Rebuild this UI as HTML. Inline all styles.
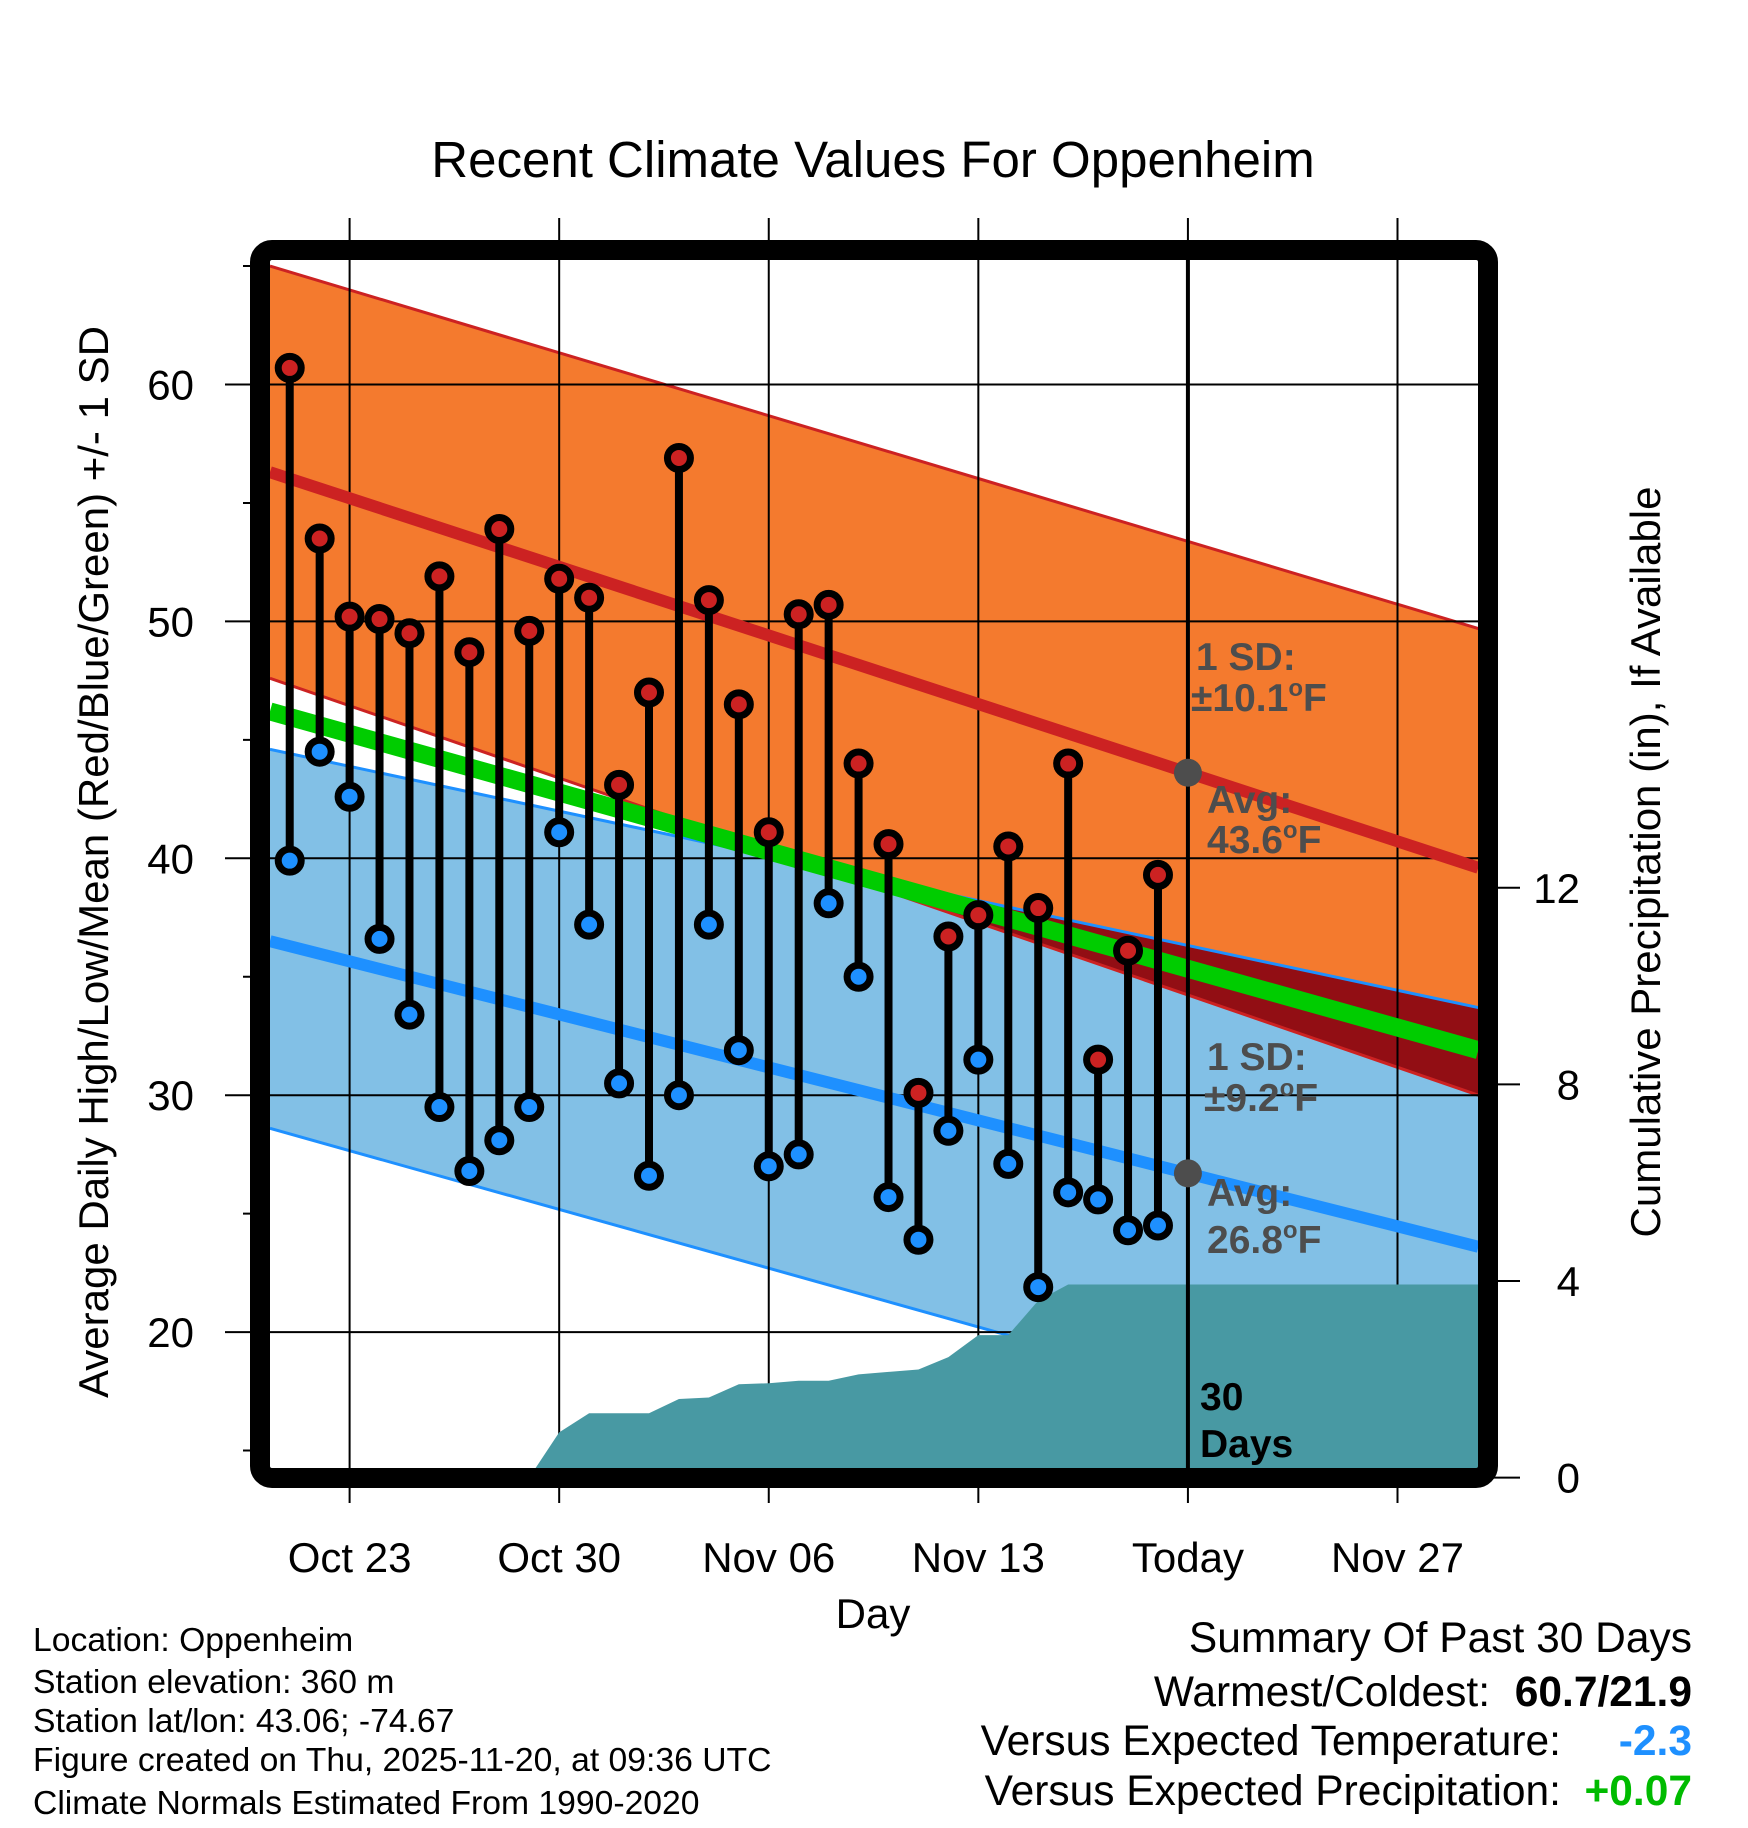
<!DOCTYPE html>
<html><head><meta charset="utf-8"><style>
html,body{margin:0;padding:0;background:#fff;}
svg{display:block;font-family:"Liberation Sans",sans-serif;}
</style></head><body>
<svg id="chart" width="1748" height="1828" viewBox="0 0 1748 1828" xmlns="http://www.w3.org/2000/svg">
<defs><clipPath id="plotclip"><rect x="270" y="260" width="1208" height="1208"/></clipPath></defs>
<text x="873" y="177" font-size="51" text-anchor="middle">Recent Climate Values For Oppenheim</text>
<g id="plot" clip-path="url(#plotclip)"></g>
<g id="axes"></g>
<rect x="260" y="250" width="1228" height="1228" rx="12" fill="none" stroke="#000" stroke-width="20"/>
<text transform="translate(108,862) rotate(-90)" font-size="42" text-anchor="middle">Average Daily High/Low/Mean (Red/Blue/Green) +/- 1 SD</text>
<text transform="translate(1660,862) rotate(-90)" font-size="42" text-anchor="middle">Cumulative Precipitation (in), If Available</text>
<text x="873" y="1628" font-size="42" text-anchor="middle">Day</text>
<g font-size="33.7">
<text x="33" y="1651">Location: Oppenheim</text>
<text x="33" y="1693">Station elevation: 360 m</text>
<text x="33" y="1732">Station lat/lon: 43.06; -74.67</text>
<text x="33" y="1771">Figure created on Thu, 2025-11-20, at 09:36 UTC</text>
<text x="33" y="1814">Climate Normals Estimated From 1990-2020</text>
</g>
<g font-size="42.5" text-anchor="end">
<text x="1692" y="1652">Summary Of Past 30 Days</text>
<text x="1490" y="1706">Warmest/Coldest:</text>
<text x="1692" y="1706" font-weight="bold">60.7/21.9</text>
<text x="1561" y="1755">Versus Expected Temperature:</text>
<text x="1692" y="1755" font-weight="bold" fill="#1E90FF">-2.3</text>
<text x="1561" y="1805">Versus Expected Precipitation:</text>
<text x="1692" y="1805" font-weight="bold" fill="#00BB00">+0.07</text>
</g>
<script>
const highs=[60.7,53.5,50.2,50.1,49.5,51.9,48.7,53.9,49.6,51.8,51.0,43.1,47.0,56.9,50.9,46.5,41.1,50.3,50.7,44.0,40.6,30.1,36.7,37.6,40.5,37.9,44.0,31.5,36.1,39.3];
const lows=[39.9,44.5,42.6,36.6,33.4,29.5,26.8,28.1,29.5,41.1,37.2,30.5,26.6,30.0,37.2,31.9,27.0,27.5,38.1,35.0,25.7,23.9,28.5,31.5,27.1,21.9,25.9,25.6,24.3,24.5];
const precip=[0,0,0,0,0,0,0,0,0,0.92,1.31,1.31,1.31,1.6,1.63,1.9,1.92,1.97,1.97,2.1,2.15,2.2,2.45,2.9,2.9,3.6,3.93,3.93,3.93,3.93];
const normalDays=[-2.66,37.7];
const highUpper=[65.0,49.7];
const highAvg=[56.3,39.6];
const highLower=[47.6,30.0];
const meanAvg=[46.2,31.9];
const lowUpper=[44.6,33.7];
const lowAvg=[36.5,23.6];
const lowLower=[28.6,14.3];
const tempTicks=[20,30,40,50,60];
const minorTicks=[15,25,35,45,55,65];
const precipTicks=[0,4,8,12];
const dateLabels=["Oct 23","Oct 30","Nov 06","Nov 13","Today","Nov 27"];
const dateDays=[0,7,14,21,28,35];
const firstDay=-2, todayDay=28;

const NS="http://www.w3.org/2000/svg";
const xs=d=>349.6+d*29.94;
const yT=v=>384.5+(60-v)*23.69;
const yP=p=>1477.6-p*49.15;
const plot=document.getElementById('plot'), axes=document.getElementById('axes');
function mk(tag,attrs,parent){const e=document.createElementNS(NS,tag);for(const k in attrs)e.setAttribute(k,attrs[k]);parent.appendChild(e);return e;}
const pts=(a,b)=>normalDays.map((d,i)=>xs(d)+','+yT(a[i])).concat(normalDays.slice().reverse().map((d,j)=>xs(d)+','+yT(b[1-j])));
let e;
e=mk('polygon',{points:pts(highUpper,highLower).join(' '),fill:'#F47A2E'},plot);

e=mk('polygon',{points:pts(lowUpper,lowLower).join(' '),fill:'#82C0E6'},plot);

const f0=highLower[0]-lowUpper[0], f1=highLower[1]-lowUpper[1];
if(f0*f1<0){const t=f0/(f0-f1);const dc=normalDays[0]+t*(normalDays[1]-normalDays[0]);const vc=highLower[0]+t*(highLower[1]-highLower[0]);
 const endD=f1<0?normalDays[1]:normalDays[0];const k=f1<0?1:0;
 e=mk('polygon',{points:[xs(dc)+','+yT(vc),xs(endD)+','+yT(lowUpper[k]),xs(endD)+','+yT(highLower[k])].join(' '),fill:'#920E14'},plot);
 }
function nline(arr,color,w,name){const l=mk('line',{x1:xs(normalDays[0]),y1:yT(arr[0]),x2:xs(normalDays[1]),y2:yT(arr[1]),stroke:color,'stroke-width':w},plot);
 }
nline(highUpper,'#CC2222',3,'high-upper-sd-line');
nline(highLower,'#CC2222',3,'high-lower-sd-line');
nline(lowUpper,'#1E90FF',3,'low-upper-sd-line');
nline(lowLower,'#1E90FF',3,'low-lower-sd-line');
tempTicks.forEach(v=>{e=mk('line',{x1:200,x2:1500,y1:yT(v),y2:yT(v),stroke:'#000','stroke-width':2},plot);
 });
dateDays.forEach(d=>{e=mk('line',{x1:xs(d),x2:xs(d),y1:200,y2:1500,stroke:'#000','stroke-width':2},plot);
 });
nline(highAvg,'#CC2222',12,'high-avg-line');
nline(lowAvg,'#1E90FF',12,'low-avg-line');
nline(meanAvg,'#00CC00',18,'mean-avg-line');
let pp=[xs(normalDays[0])+','+yP(0)];
precip.forEach((p,i)=>pp.push(xs(firstDay+i)+','+yP(p)));
pp.push(xs(normalDays[1])+','+yP(precip[precip.length-1]));pp.push(xs(normalDays[1])+','+yP(0));
e=mk('polygon',{points:pp.join(' '),fill:'#4899A3'},plot);

e=mk('line',{x1:xs(todayDay),x2:xs(todayDay),y1:250,y2:1480,stroke:'#000','stroke-width':4},plot);

[[highAvg],[lowAvg]].forEach(([arr],j)=>{const t=(todayDay-normalDays[0])/(normalDays[1]-normalDays[0]);const v=arr[0]+t*(arr[1]-arr[0]);
 e=mk('circle',{cx:xs(todayDay),cy:yT(v),r:14,fill:'#4D4D4D'},plot);
 });
highs.forEach((h,i)=>{const x=xs(firstDay+i);
 e=mk('line',{x1:x,x2:x,y1:yT(h),y2:yT(lows[i]),stroke:'#000','stroke-width':8},plot);
 });
highs.forEach((h,i)=>{const x=xs(firstDay+i);
 e=mk('circle',{cx:x,cy:yT(h),r:11.5,fill:'#CC2222',stroke:'#000','stroke-width':7},plot);
 
 e=mk('circle',{cx:x,cy:yT(lows[i]),r:11.5,fill:'#1E90FF',stroke:'#000','stroke-width':7},plot);
 });
function ann(x,y,txt,sup,name,color){const t=mk('text',{x:x,y:y,'font-size':39,'font-weight':'bold',fill:color},plot);
 
 t.appendChild(document.createTextNode(txt));
 if(sup){const s=mk('tspan',{dy:-15,'font-size':24},t);s.textContent='o';const s2=mk('tspan',{dy:15},t);s2.textContent='F';}}
ann(1196,670,'1 SD:','','high-sd-label','#4D4D4D');
ann(1191,711,'±10.1',1,'high-sd-value','#4D4D4D');
ann(1207,813,'Avg:','','high-avg-label','#4D4D4D');
ann(1207,853,'43.6',1,'high-avg-value','#4D4D4D');
ann(1207,1070,'1 SD:','','low-sd-label','#4D4D4D');
ann(1204,1111,'±9.2',1,'low-sd-value','#4D4D4D');
ann(1207,1206,'Avg:','','low-avg-label','#4D4D4D');
ann(1207,1253,'26.8',1,'low-avg-value','#4D4D4D');
ann(1200,1410,'30','','period-label-number','#000');
ann(1200,1457,'Days','','period-label-unit','#000');
tempTicks.forEach(v=>{e=mk('line',{x1:225,x2:262,y1:yT(v),y2:yT(v),stroke:'#000','stroke-width':2},axes);
 
 e=mk('text',{x:194,y:yT(v)+15,'font-size':42,'text-anchor':'end'},axes);e.textContent=v;
 });
minorTicks.forEach(v=>{e=mk('line',{x1:243,x2:262,y1:yT(v),y2:yT(v),stroke:'#000','stroke-width':2},axes);
 });
dateDays.forEach((d,i)=>{e=mk('line',{x1:xs(d),x2:xs(d),y1:218,y2:250,stroke:'#000','stroke-width':2},axes);
 
 e=mk('line',{x1:xs(d),x2:xs(d),y1:1478,y2:1503,stroke:'#000','stroke-width':2},axes);
 
 e=mk('text',{x:xs(d),y:1572,'font-size':42,'text-anchor':'middle'},axes);e.textContent=dateLabels[i];
 });
precipTicks.forEach(p=>{e=mk('line',{x1:1490,x2:1520,y1:yP(p),y2:yP(p),stroke:'#000','stroke-width':2},axes);
 
 e=mk('text',{x:1580,y:yP(p)+15,'font-size':42,'text-anchor':'end'},axes);e.textContent=p;
 });
</script>
</svg>
</body></html>
